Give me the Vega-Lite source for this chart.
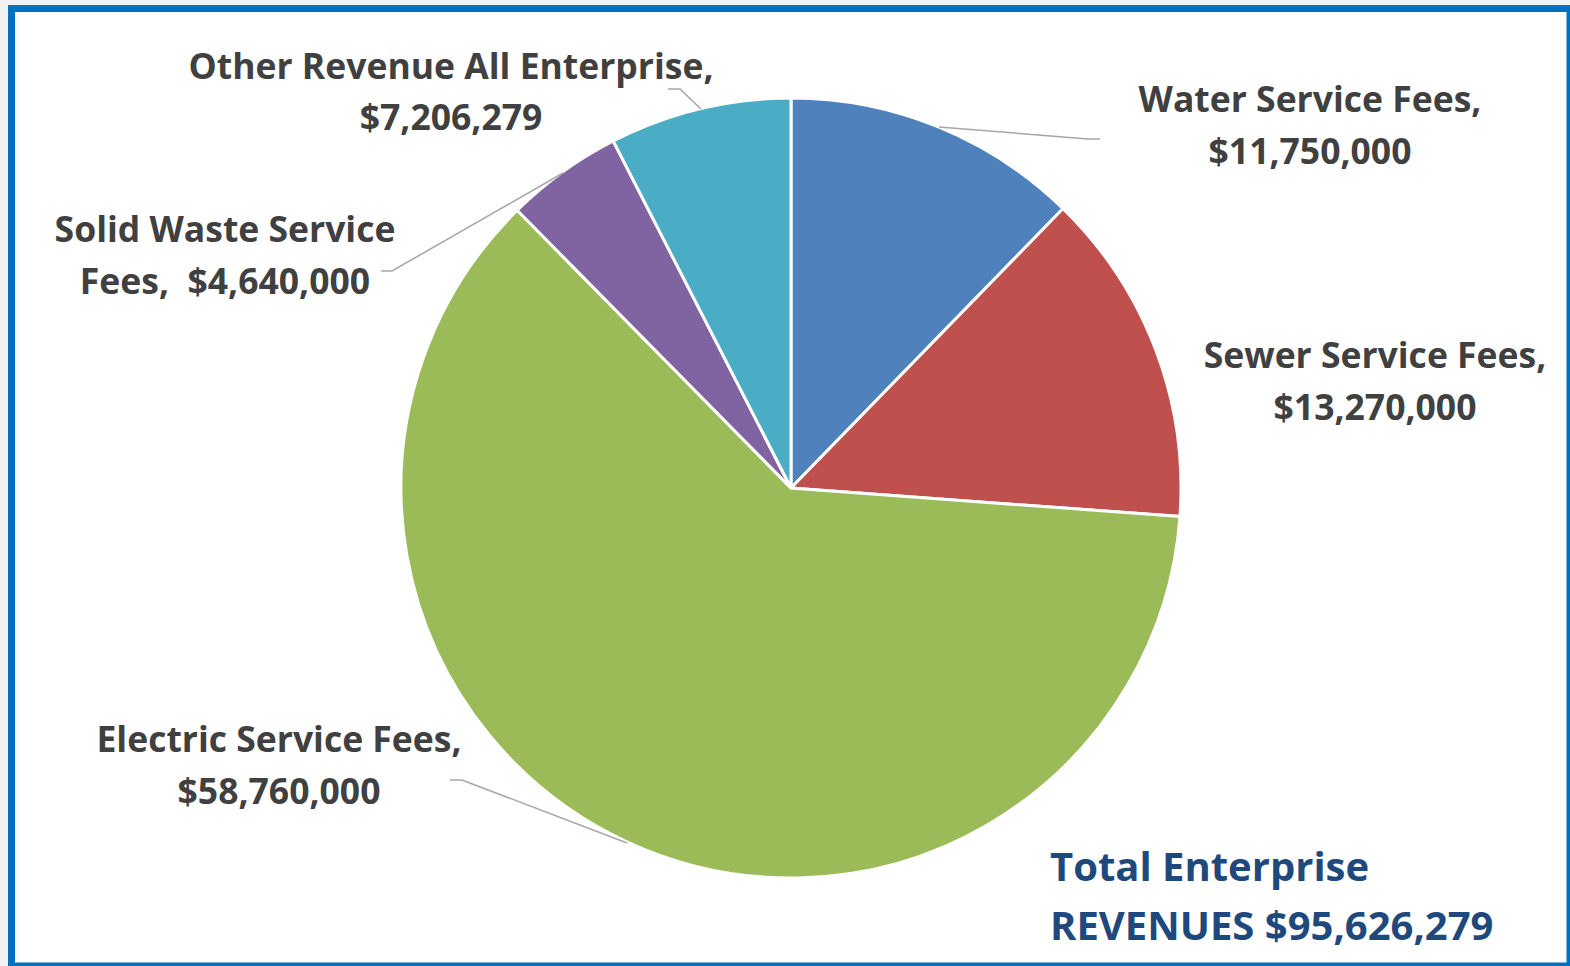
{
  "$schema": "https://vega.github.io/schema/vega-lite/v6.json",
  "autosize": {"type": "fit", "contains": "padding"},
  "width": 1570,
  "height": 966,
  "padding": {"left": 11.5, "top": 8.5, "right": 0, "bottom": 0},
  "background": "#F2F2F2",
  "config": {
    "view": {"stroke": "#0070C0", "strokeWidth": 7, "fill": "white"}
  },
  "datasets": {
    "slices": [
      {"category": "Water Service Fees", "value": 11750000, "ord": 1},
      {"category": "Sewer Service Fees", "value": 13270000, "ord": 2},
      {"category": "Electric Service Fees", "value": 58760000, "ord": 3},
      {"category": "Solid Waste Service Fees", "value": 4640000, "ord": 4},
      {"category": "Other Revenue All Enterprise", "value": 7206279, "ord": 5}
    ],
    "leaders": [
      {"g": "Other", "s": 1, "x": 668, "y": 89},
      {"g": "Other", "s": 2, "x": 680, "y": 89},
      {"g": "Other", "s": 3, "x": 701, "y": 109},
      {"g": "Water", "s": 1, "x": 939, "y": 127},
      {"g": "Water", "s": 2, "x": 1088, "y": 139},
      {"g": "Water", "s": 3, "x": 1100, "y": 139},
      {"g": "Solid", "s": 1, "x": 381, "y": 271},
      {"g": "Solid", "s": 2, "x": 392, "y": 271},
      {"g": "Solid", "s": 3, "x": 563, "y": 173},
      {"g": "Electric", "s": 1, "x": 450, "y": 780},
      {"g": "Electric", "s": 2, "x": 462, "y": 780},
      {"g": "Electric", "s": 3, "x": 627, "y": 843}
    ],
    "labels": [
      {"t": "Other Revenue All Enterprise,", "x": 451, "y": 79},
      {"t": "$7,206,279", "x": 451, "y": 130},
      {"t": "Water Service Fees,", "x": 1310, "y": 112},
      {"t": "$11,750,000", "x": 1310, "y": 164},
      {"t": "Sewer Service Fees,", "x": 1375, "y": 368},
      {"t": "$13,270,000", "x": 1375, "y": 420},
      {"t": "Solid Waste Service", "x": 225, "y": 242},
      {"t": "Fees,\u00a0\u00a0$4,640,000", "x": 225, "y": 294},
      {"t": "Electric Service Fees,", "x": 279, "y": 752},
      {"t": "$58,760,000", "x": 279, "y": 804}
    ],
    "total": [
      {"t": "Total Enterprise", "x": 1050, "y": 881},
      {"t": "REVENUES $95,626,279", "x": 1050, "y": 940}
    ]
  },
  "layer": [
    {
      "data": {"name": "slices"},
      "mark": {"type": "arc", "radius": 390, "stroke": "white", "strokeWidth": 3},
      "encoding": {
        "theta": {"field": "value", "type": "quantitative", "stack": true},
        "order": {"field": "ord", "type": "quantitative"},
        "color": {
          "field": "category",
          "type": "nominal",
          "scale": {
            "domain": ["Water Service Fees", "Sewer Service Fees", "Electric Service Fees", "Solid Waste Service Fees", "Other Revenue All Enterprise"],
            "range": ["#4F81BD", "#C0504D", "#9BBB59", "#8064A2", "#4BACC6"]
          },
          "legend": null
        },
        "x": {"datum": 791, "type": "quantitative", "scale": {"domain": [11.5, 1570], "nice": false, "zero": false}, "axis": null},
        "y": {"datum": 488, "type": "quantitative", "scale": {"domain": [966, 8.5], "nice": false, "zero": false}, "axis": null}
      }
    },
    {
      "data": {"name": "leaders"},
      "mark": {"type": "line", "color": "#A6A6A6", "strokeWidth": 1.5},
      "encoding": {
        "x": {"field": "x", "type": "quantitative"},
        "y": {"field": "y", "type": "quantitative"},
        "detail": {"field": "g"},
        "order": {"field": "s", "type": "quantitative"}
      }
    },
    {
      "data": {"name": "labels"},
      "mark": {"type": "text", "font": "Open Sans", "fontWeight": "bold", "fontSize": 35.5, "color": "#404040", "align": "center", "baseline": "alphabetic"},
      "encoding": {
        "x": {"field": "x", "type": "quantitative"},
        "y": {"field": "y", "type": "quantitative"},
        "text": {"field": "t"}
      }
    },
    {
      "data": {"name": "total"},
      "mark": {"type": "text", "font": "Open Sans", "fontWeight": "bold", "fontSize": 40, "color": "#1F497D", "align": "left", "baseline": "alphabetic"},
      "encoding": {
        "x": {"field": "x", "type": "quantitative"},
        "y": {"field": "y", "type": "quantitative"},
        "text": {"field": "t"}
      }
    }
  ]
}
